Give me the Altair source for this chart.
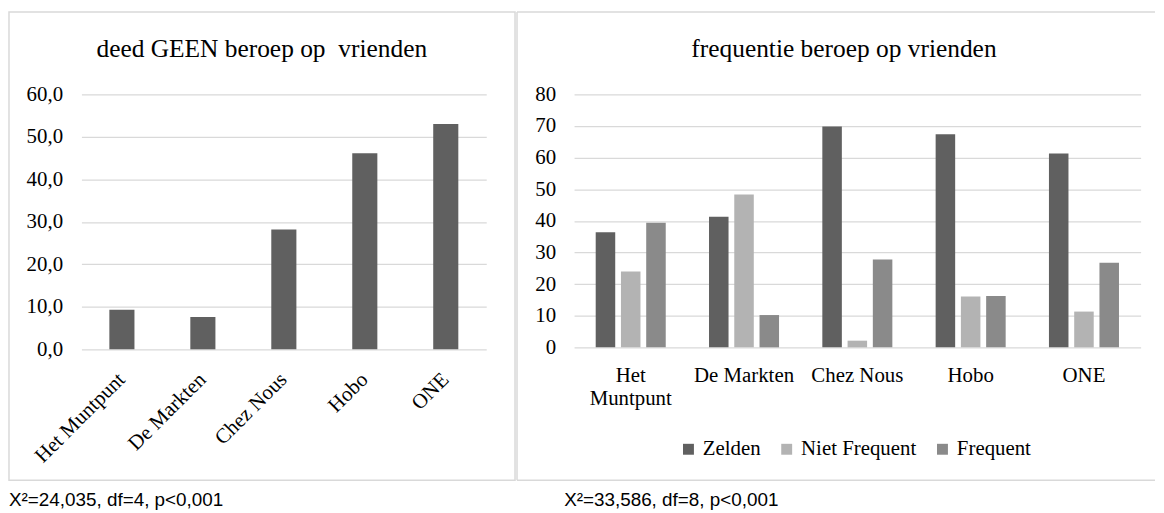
import altair as alt
import pandas as pd

# ---- data ----
categories = ["Het Muntpunt", "De Markten", "Chez Nous", "Hobo", "ONE"]
geen_beroep = [9.3, 7.6, 28.2, 46.1, 53.0]

series_names = ["Zelden", "Niet Frequent", "Frequent"]
zelden = [36.4, 41.3, 69.8, 67.4, 61.3]
niet_frequent = [24.0, 48.3, 2.1, 16.1, 11.3]
frequent = [39.4, 10.2, 27.8, 16.2, 26.7]
series_colors = ["#606060", "#b3b3b3", "#8a8a8a"]

left_title = "deed GEEN beroep op \u00a0vrienden"
right_title = "frequentie beroep op vrienden"
left_note = "X\u00b2=24,035, df=4, p<0,001"
right_note = "X\u00b2=33,586, df=8, p<0,001"

left_ticks = [0, 10, 20, 30, 40, 50, 60]
right_ticks = [0, 10, 20, 30, 40, 50, 60, 70, 80]

SERIF = "Liberation Serif"
SANS = "Liberation Sans"
GRID = "#d9d9d9"
BORDER = "#d9d9d9"

df_left = pd.DataFrame({"cat": categories, "val": geen_beroep})
rows = []
for s, vals in zip(series_names, [zelden, niet_frequent, frequent]):
    for c, v in zip(categories, vals):
        rows.append({"cat": c, "series": s, "val": v})
df_right = pd.DataFrame(rows)

one = pd.DataFrame({"k": [0]})

# ---- left panel ----
LW, LH = 408, 257
left_bars = alt.Chart(df_left).mark_bar(color="#606060").encode(
    x=alt.X(
        "cat:N",
        sort=categories,
        scale=alt.Scale(paddingInner=0.69, paddingOuter=0.345),
        axis=alt.Axis(
            title=None, labelAngle=-45, labelAlign="right", labelBaseline="middle",
            labelFont=SERIF, labelFontSize=21, labelColor="#000", labelPadding=27,
            ticks=False, domain=False, grid=False, labelOverlap=False, labelLimit=300,
        ),
    ),
    y=alt.Y(
        "val:Q",
        scale=alt.Scale(domain=[0, 60], nice=False),
        axis=alt.Axis(
            title=None, values=left_ticks,
            labelExpr="replace(format(datum.value, '.1f'), '.', ',')",
            labelFont=SERIF, labelFontSize=21, labelColor="#000", labelPadding=19,
            grid=True, gridColor=GRID, gridWidth=1.3, domain=False, ticks=False,
        ),
    ),
)
left_border = alt.Chart(one).mark_rect(
    fill="#ffffff", fillOpacity=0, stroke=BORDER, strokeWidth=1.5
).encode(x=alt.value(-73), x2=alt.value(437), y=alt.value(-83), y2=alt.value(389))
left_title_mark = alt.Chart(pd.DataFrame({"t": [left_title]})).mark_text(
    align="center", baseline="alphabetic", font=SERIF, fontSize=25.6, color="#000"
).encode(x=alt.value(181.75), y=alt.value(-38), text="t:N")
left_note_mark = alt.Chart(pd.DataFrame({"t": [left_note]})).mark_text(
    align="left", baseline="alphabetic", font=SANS, fontSize=19, color="#000"
).encode(x=alt.value(-73), y=alt.value(415), text="t:N")

left = alt.layer(left_border, left_bars, left_title_mark, left_note_mark).properties(
    width=LW, height=LH
)

# ---- right panel ----
RW, RH = 571, 255
right_bars = alt.Chart(df_right).mark_bar().encode(
    x=alt.X(
        "cat:N",
        sort=categories,
        scale=alt.Scale(paddingInner=0.382, paddingOuter=0.191),
        axis=alt.Axis(
            title=None, labelAngle=0, labelAlign="center", labelBaseline="top",
            labelExpr="datum.value == 'Het Muntpunt' ? ['Het', 'Muntpunt'] : datum.value",
            labelFont=SERIF, labelFontSize=21, labelColor="#000", labelPadding=17,
            labelLineHeight=23.5, ticks=False, domain=False, grid=False,
            labelOverlap=False, labelLimit=300,
        ),
    ),
    xOffset=alt.XOffset(
        "series:N", sort=series_names,
        scale=alt.Scale(paddingInner=0.227, paddingOuter=0),
    ),
    y=alt.Y(
        "val:Q",
        scale=alt.Scale(domain=[0, 80], nice=False),
        axis=alt.Axis(
            title=None, values=right_ticks, format="d",
            labelFont=SERIF, labelFontSize=21, labelColor="#000", labelPadding=18.5,
            grid=True, gridColor=GRID, gridWidth=1.3, domain=False, ticks=False,
        ),
    ),
    color=alt.Color(
        "series:N",
        sort=series_names,
        scale=alt.Scale(domain=series_names, range=series_colors),
        legend=alt.Legend(
            title=None, orient="none", legendX=601.3, legendY=347,
            direction="horizontal", symbolType="square", symbolSize=121,
            symbolStrokeWidth=0, labelFont=SERIF, labelFontSize=21,
            labelColor="#000", columnPadding=15, labelOffset=4, padding=0,
        ),
    ),
)
right_top = alt.Chart(one).mark_rule(color=BORDER, strokeWidth=1.5).encode(
    x=alt.value(-57.5), x2=alt.value(585.5), y=alt.value(-83)
)
right_bottom = alt.Chart(one).mark_rule(color=BORDER, strokeWidth=1.5).encode(
    x=alt.value(-57.5), x2=alt.value(585.5), y=alt.value(389)
)
right_left = alt.Chart(one).mark_rule(color=BORDER, strokeWidth=1.5).encode(
    x=alt.value(-57.5), y=alt.value(-83), y2=alt.value(389)
)
right_title_mark = alt.Chart(pd.DataFrame({"t": [right_title]})).mark_text(
    align="center", baseline="alphabetic", font=SERIF, fontSize=25.6, color="#000"
).encode(x=alt.value(272), y=alt.value(-38), text="t:N")
right_note_mark = alt.Chart(pd.DataFrame({"t": [right_note]})).mark_text(
    align="left", baseline="alphabetic", font=SANS, fontSize=19, color="#000"
).encode(x=alt.value(-10), y=alt.value(415), text="t:N")

right = alt.layer(
    right_top, right_bottom, right_left, right_bars, right_title_mark, right_note_mark
).properties(width=RW, height=RH)

chart = (
    alt.hconcat(left, right, spacing=88.5, bounds="flush")
    .properties(padding={"left": 0, "top": 1, "right": 0, "bottom": 0})
    .configure_view(stroke=None)
)

chart.save("out.html", embed_options={"renderer": "svg", "actions": False})
